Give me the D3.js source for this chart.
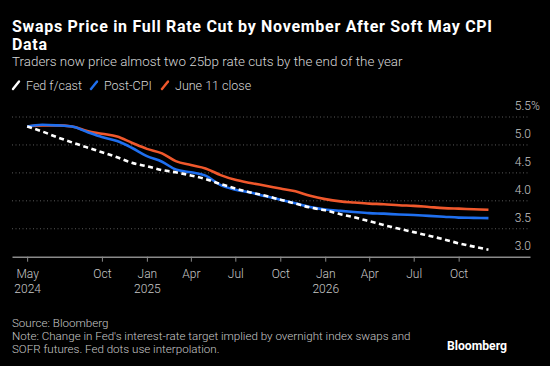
<!DOCTYPE html>
<html><head><meta charset="utf-8">
<script src="https://cdn.jsdelivr.net/npm/d3@7"></script>
<style>
html,body{margin:0;padding:0;background:#000;}
svg{display:block;font-family:Roboto,"Noto Sans",sans-serif;}
</style></head>
<body>
<svg id="c" width="550" height="366"></svg>
<script>
// ---- data ----
const months = ["2024-05","2024-06","2024-07","2024-08","2024-09","2024-10","2024-11","2024-12",
  "2025-01","2025-02","2025-03","2025-04","2025-05","2025-06","2025-07","2025-08","2025-09","2025-10","2025-11","2025-12",
  "2026-01","2026-02","2026-03","2026-04","2026-05","2026-06","2026-07","2026-08","2026-09","2026-10","2026-11","2026-12"];
const fedForecast = [5.33,5.24,5.14,5.045,4.955,4.87,4.78,4.68,4.62,4.55,4.51,4.455,4.39,4.30,4.22,4.15,4.09,4.02,3.95,3.88,
  3.83,3.76,3.705,3.635,3.565,3.50,3.44,3.375,3.31,3.24,3.18,3.125];
const postCPI = [5.33,5.36,5.35,5.33,5.23,5.14,5.07,4.95,4.80,4.70,4.56,4.51,4.45,4.28,4.20,4.15,4.08,4.02,3.955,3.89,
  3.845,3.82,3.80,3.78,3.77,3.755,3.745,3.73,3.715,3.70,3.695,3.69];
const june11Close = [5.33,5.35,5.35,5.33,5.25,5.20,5.15,5.04,4.93,4.85,4.71,4.64,4.58,4.46,4.375,4.32,4.27,4.22,4.17,4.09,
  4.03,3.99,3.97,3.95,3.94,3.92,3.91,3.89,3.87,3.86,3.85,3.84];
const yTicks = [3.0,3.5,4.0,4.5,5.0,5.5];
const xTickDates = ["2024-05","2024-10","2025-01","2025-04","2025-07","2025-10","2026-01","2026-04","2026-07","2026-10"];
const xTickLabels = [["May","2024"],["Oct"],["Jan","2025"],["Apr"],["Jul"],["Oct"],["Jan","2026"],["Apr"],["Jul"],["Oct"]];
const seriesNames = ["Fed f/cast","Post-CPI","June 11 close"];
const seriesColors = ["#ffffff","#1f6fef","#f0582c"];

const parse = d3.timeParse("%Y-%m");
const svg = d3.select("#c");

// titles
svg.append("text").attr("x",12).attr("y",31.5).attr("fill","#fff").attr("font-size",16).attr("font-weight",700)
  .attr("textLength",480).attr("lengthAdjust","spacing")
  .text("Swaps Price in Full Rate Cut by November After Soft May CPI");
svg.append("text").attr("x",12).attr("y",49.5).attr("fill","#fff").attr("font-size",16).attr("font-weight",700)
  .attr("textLength",35).attr("lengthAdjust","spacing").text("Data");
svg.append("text").attr("x",12).attr("y",65.5).attr("fill","#d8d8d8").attr("font-size",13.4).attr("font-weight",300)
  .text("Traders now price almost two 25bp rate cuts by the end of the year");

// legend
const legX = [12, 90, 161];
seriesNames.forEach((n,i)=>{
  const g = svg.append("g").attr("transform",`translate(${legX[i]},90)`);
  g.append("line").attr("x1",1).attr("y1",-1).attr("x2",7).attr("y2",-8.5)
    .attr("stroke",seriesColors[i]).attr("stroke-width",2.4).attr("stroke-linecap","round");
  g.append("text").attr("x",14).attr("y",0).attr("fill","#d8d8d8").attr("font-size",12.5).attr("font-weight",300).text(n);
});

// scales
const x = d3.scaleTime().domain([new Date(2024,2,31), new Date(2027,1,24)]).range([12,530]);
const y = d3.scaleLinear().domain([3.0,5.5]).range([256.7,117]);

// gridlines
svg.append("g").selectAll("line").data(yTicks.filter(t=>t>3.0)).join("line")
  .attr("x1",12).attr("x2",530).attr("y1",d=>y(d)).attr("y2",d=>y(d))
  .attr("stroke","#5a5a5a").attr("stroke-width",1).attr("stroke-dasharray","1,2.5");

// y axis labels
const yAxis = d3.axisLeft(y).tickValues(yTicks).tickSize(0).tickPadding(0).tickFormat(d3.format(".1f"));
const yg = svg.append("g").attr("transform","translate(531,0)").call(yAxis);
yg.select(".domain").remove();
yg.selectAll("text").attr("dy",-7.5).attr("fill","#c8c8c8").attr("font-size",12).attr("font-weight",300)
  .attr("font-family","Roboto,sans-serif");
svg.append("text").attr("x",531).attr("y",y(5.5)-7.5).attr("fill","#c8c8c8").attr("font-size",12).attr("font-weight",300).text("%");

// x axis
const xAxis = d3.axisBottom(x).tickValues(xTickDates.map(parse)).tickSize(5).tickSizeOuter(0).tickFormat("");
const xg = svg.append("g").attr("transform",`translate(0,${y(3.0)})`).call(xAxis);
xg.select(".domain").attr("stroke","#8a8a8a").attr("stroke-width",1.5);
xg.selectAll(".tick line").attr("stroke","#8a8a8a").attr("stroke-width",1);
xg.selectAll(".tick").each(function(d,i){
  const t = d3.select(this).append("text").attr("fill","#c8c8c8").attr("font-size",12).attr("font-weight",300)
    .attr("text-anchor","middle").attr("font-family","Roboto,sans-serif");
  xTickLabels[i].forEach((s,j)=>t.append("tspan").attr("x",0).attr("y",21.5+j*15).text(s));
});

// lines
const dates = months.map(parse);
const line = d3.line().x((d,i)=>x(dates[i])).y(d=>y(d)).curve(d3.curveMonotoneX);
const series = [fedForecast, postCPI, june11Close];
[2,1].forEach(i=>{
  svg.append("path").datum(series[i]).attr("d",line).attr("fill","none")
    .attr("stroke",seriesColors[i]).attr("stroke-width",2.6).attr("stroke-linejoin","round");
});
svg.append("path").datum(series[0]).attr("d",line).attr("fill","none")
  .attr("stroke",seriesColors[0]).attr("stroke-width",2.6).attr("stroke-dasharray","5,3.5");

// footer
const foot = ["Source: Bloomberg","Note: Change in Fed's interest-rate target implied by overnight index swaps and","SOFR futures. Fed dots use interpolation."];
foot.forEach((s,i)=>svg.append("text").attr("x",12).attr("y",[327,340,353][i]).attr("fill","#c8c8c8")
  .attr("font-size",11.6).attr("font-weight",300).text(s));
svg.append("text").attr("x",507).attr("y",350).attr("text-anchor","end").attr("fill","#fff")
  .attr("font-size",12.2).attr("font-weight",700).text("Bloomberg");
</script>
</body></html>
